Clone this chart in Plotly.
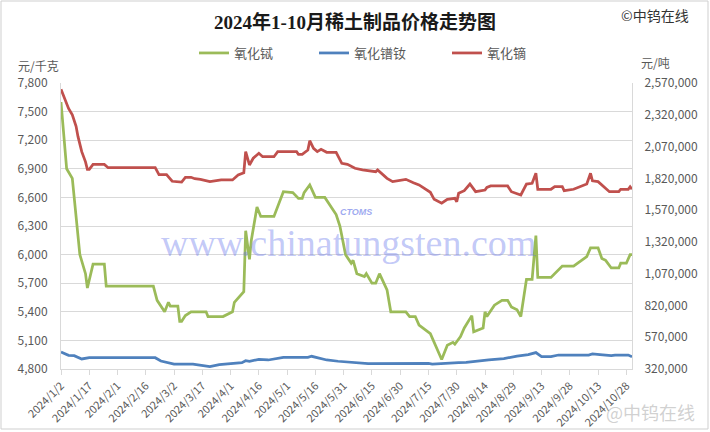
import plotly.graph_objects as go

# ---------------- data ----------------
tb_dates = ["2024-01-02","2024-01-05","2024-01-08","2024-01-12","2024-01-15","2024-01-16","2024-01-19","2024-01-25","2024-01-26","2024-02-20",
            "2024-02-22","2024-02-26","2024-02-28","2024-02-29","2024-03-04","2024-03-05","2024-03-06","2024-03-08","2024-03-11","2024-03-19",
            "2024-03-20","2024-03-28","2024-04-02","2024-04-03","2024-04-08","2024-04-09","2024-04-11","2024-04-12","2024-04-15","2024-04-17",
            "2024-04-24","2024-04-29","2024-05-04","2024-05-07","2024-05-09","2024-05-10","2024-05-13","2024-05-16","2024-05-21","2024-05-23",
            "2024-05-27","2024-05-29","2024-06-01","2024-06-04","2024-06-05","2024-06-07","2024-06-11","2024-06-12","2024-06-15","2024-06-17",
            "2024-06-19","2024-06-23","2024-06-25","2024-07-03","2024-07-05","2024-07-08","2024-07-10","2024-07-16","2024-07-19","2024-07-22",
            "2024-07-25","2024-07-28","2024-07-29","2024-08-01","2024-08-03","2024-08-07","2024-08-08","2024-08-13","2024-08-14","2024-08-15",
            "2024-08-19","2024-08-23","2024-08-26","2024-08-28","2024-08-31","2024-09-02","2024-09-05","2024-09-08","2024-09-10","2024-09-11",
            "2024-09-18","2024-09-24","2024-09-30","2024-10-07","2024-10-09","2024-10-13","2024-10-15","2024-10-17","2024-10-20","2024-10-24",
            "2024-10-25","2024-10-28","2024-10-30","2024-10-31"]
tb_values = [7600,6900,6800,6000,5800,5650,5900,5900,5670,5670,
             5520,5400,5500,5460,5460,5300,5300,5360,5400,5400,
             5350,5350,5400,5500,5610,6250,5950,6150,6500,6400,
             6400,6660,6650,6590,6590,6650,6730,6600,6600,6540,
             6420,6300,6000,5910,5940,5800,5770,5800,5700,5700,
             5800,5630,5400,5400,5350,5350,5260,5170,5030,4900,
             5050,5080,5060,5140,5230,5360,5190,5230,5400,5350,
             5470,5520,5520,5450,5420,5350,5740,5740,6200,5760,
             5760,5880,5880,5980,6070,6070,5960,5940,5860,5860,
             5910,5910,6000,6000]

prnd_dates = ["2024-01-02","2024-01-06","2024-01-09","2024-01-13","2024-01-17","2024-02-21","2024-02-24","2024-02-27","2024-03-02","2024-03-12",
              "2024-03-14","2024-03-21","2024-03-26","2024-04-01","2024-04-07","2024-04-09","2024-04-11","2024-04-16","2024-04-21","2024-04-29",
              "2024-05-12","2024-05-14","2024-05-18","2024-05-22","2024-05-28","2024-06-07","2024-06-13","2024-07-15","2024-07-17","2024-07-31",
              "2024-08-04","2024-08-16","2024-08-24","2024-08-31","2024-09-06","2024-09-10","2024-09-13","2024-09-18","2024-09-22","2024-10-08",
              "2024-10-10","2024-10-14","2024-10-20","2024-10-22","2024-10-29","2024-10-31"]
prnd_values = [454000,428000,425000,399000,409000,409000,383000,375000,359000,359000,
               354000,338000,354000,362000,370000,385000,381000,396000,391000,412000,
               412000,420000,407000,391000,381000,367000,362000,365000,359000,370000,
               372000,391000,402000,422000,433000,449000,417000,417000,430000,430000,
               438000,433000,425000,430000,430000,417000]

dy_dates = ["2024-01-02","2024-01-04","2024-01-06","2024-01-08","2024-01-10","2024-01-11","2024-01-13","2024-01-15","2024-01-16","2024-01-17",
            "2024-01-19","2024-01-25","2024-01-27","2024-02-21","2024-02-23","2024-02-27","2024-02-29","2024-03-01","2024-03-06","2024-03-08",
            "2024-03-11","2024-03-13","2024-03-16","2024-03-21","2024-03-27","2024-04-02","2024-04-05","2024-04-08","2024-04-09","2024-04-11",
            "2024-04-13","2024-04-16","2024-04-18","2024-04-24","2024-04-26","2024-05-06","2024-05-07","2024-05-09","2024-05-12","2024-05-13",
            "2024-05-15","2024-05-17","2024-05-19","2024-05-22","2024-05-27","2024-05-30","2024-06-02","2024-06-06","2024-06-10","2024-06-17",
            "2024-06-18","2024-06-23","2024-06-26","2024-06-30","2024-07-03","2024-07-07","2024-07-10","2024-07-16","2024-07-18","2024-07-22",
            "2024-07-25","2024-07-29","2024-07-30","2024-07-31","2024-08-03","2024-08-06","2024-08-09","2024-08-14","2024-08-15","2024-08-17",
            "2024-08-26","2024-08-28","2024-09-02","2024-09-05","2024-09-08","2024-09-10","2024-09-11","2024-09-18","2024-09-20","2024-09-24",
            "2024-09-25","2024-09-30","2024-10-07","2024-10-09","2024-10-10","2024-10-13","2024-10-16","2024-10-19","2024-10-24","2024-10-25",
            "2024-10-29","2024-10-30","2024-10-31"]
dy_values = [2520000,2450000,2370000,2320000,2230000,2150000,2030000,1950000,1890000,1890000,
             1930000,1930000,1904000,1904000,1849000,1849000,1815000,1797000,1791000,1828000,
             1828000,1817000,1812000,1794000,1807000,1807000,1846000,1864000,2030000,1925000,
             1978000,2017000,1990000,1990000,2030000,2030000,2009000,2009000,2043000,2116000,
             2056000,2030000,2048000,2025000,2025000,1938000,1930000,1899000,1886000,1872000,
             1886000,1820000,1794000,1802000,1812000,1786000,1768000,1710000,1655000,1624000,
             1655000,1663000,1636000,1702000,1723000,1775000,1715000,1728000,1749000,1760000,
             1760000,1715000,1689000,1775000,1781000,1860000,1734000,1734000,1754000,1754000,
             1723000,1734000,1775000,1860000,1801000,1794000,1754000,1715000,1715000,1734000,
             1734000,1754000,1734000]

series_names = ["氧化铽", "氧化镨钕", "氧化镝"]
title_text = "2024年1-10月稀土制品价格走势图"
left_unit = "元/千克"
right_unit = "元/吨"

# ---------------- layout helpers ----------------
W, H = 710, 432
L, R, T, B = 61, 632, 83, 369
def px(x):
    return (x - L) / (R - L)
def py(y):
    return (B - y) / (B - T)

GREEN, BLUE, RED = "#9BBB59", "#4F81BD", "#C0504D"
GRID = "#d9d9d9"
TXT = "#595959"
FONT = "Noto Sans CJK SC"

fig = go.Figure()
fig.add_trace(go.Scatter(x=tb_dates, y=tb_values, name=series_names[0], mode="lines",
                         line=dict(color=GREEN, width=2.75), yaxis="y", legendwidth=75))
fig.add_trace(go.Scatter(x=prnd_dates, y=prnd_values, name=series_names[1], mode="lines",
                         line=dict(color=BLUE, width=2.75), yaxis="y2", legendwidth=88))
fig.add_trace(go.Scatter(x=dy_dates, y=dy_values, name=series_names[2], mode="lines",
                         line=dict(color=RED, width=2.75), yaxis="y2", legendwidth=50))

fig.update_layout(
    width=W, height=H,
    margin=dict(l=L, r=W - R, t=T, b=H - B, pad=0, autoexpand=False),
    paper_bgcolor="white", plot_bgcolor="white",
    font=dict(family=FONT, color=TXT, size=12),
    showlegend=True,
    legend=dict(orientation="h", x=px(194), xanchor="left", y=py(53), yanchor="middle",
                font=dict(size=13, color=TXT), bgcolor="rgba(0,0,0,0)", itemwidth=30,
                traceorder="normal"),
    title=dict(text="<b>" + title_text + "</b>", x=0.5, xref="container", xanchor="center",
               y=1 - 22 / H, yref="container", yanchor="middle",
               font=dict(family="Liberation Serif, Noto Sans CJK SC", size=19, color="#1a1a1a")),
    xaxis=dict(type="date", range=["2024-01-02", "2024-10-31"], tick0="2024-01-02",
               dtick=15 * 86400000, tickformat="%Y/%-m/%-d", tickangle=-45, automargin=False,
               ticks="outside", ticklen=5, tickcolor=GRID, showline=True, linecolor=GRID,
               showgrid=False, zeroline=False, tickfont=dict(size=11, color=TXT)),
    yaxis=dict(range=[4800, 7800], tick0=4800, dtick=300, tickformat=",d", automargin=False,
               showgrid=True, gridcolor=GRID, gridwidth=1, showline=True, linecolor=GRID,
               zeroline=False, ticks="", ticklabelstandoff=10, tickfont=dict(size=12, color=TXT)),
    yaxis2=dict(range=[320000, 2570000], tick0=320000, dtick=250000, tickformat=",d",
                overlaying="y", side="right", showgrid=False, showline=True, linecolor=GRID,
                automargin=False, zeroline=False, ticks="", ticklabelstandoff=9,
                tickfont=dict(size=12, color=TXT)),
)

# outer frame of the picture
fig.add_shape(type="rect", xref="paper", yref="paper", x0=px(1), x1=px(708), y0=py(429), y1=py(1),
              line=dict(color="#cfcfcf", width=1), layer="below")

ann = [
    dict(text=left_unit, x=px(38), y=py(65), font=dict(size=12, color=TXT)),
    dict(text=right_unit, x=px(655), y=py(63), font=dict(size=12, color=TXT)),
    dict(text="©中钨在线", x=px(655), y=py(15), font=dict(size=14, color="#333333")),
    dict(text="www.chinatungsten.com", x=px(348), y=py(243),
         font=dict(size=38, family="Liberation Serif", color="rgba(100,115,235,0.40)")),
    dict(text="<b><i>CTOMS</i></b>", x=px(356), y=py(212),
         font=dict(size=9, family="Liberation Sans", color="rgba(90,110,230,0.6)")),
    dict(text="@中钨在线", x=px(650), y=py(412), font=dict(size=18, color="rgba(170,170,170,0.55)")),
]
for a in ann:
    fig.add_annotation(xref="paper", yref="paper", showarrow=False, xanchor="center",
                       yanchor="middle", **a)

fig.write_html("out.html", config={"displayModeBar": False},
               post_script="document.body.style.margin='0';document.body.style.overflow='hidden';")
